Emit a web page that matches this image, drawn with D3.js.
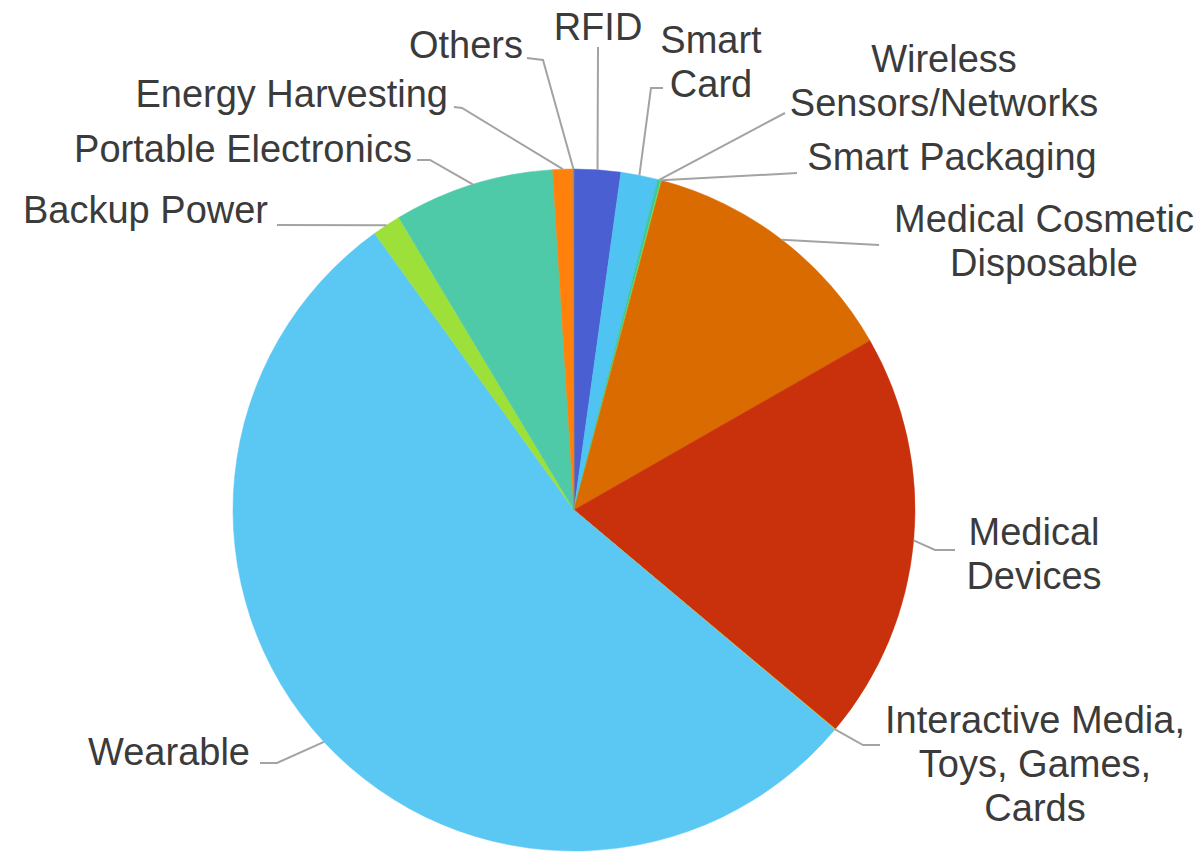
<!DOCTYPE html>
<html>
<head>
<meta charset="utf-8">
<script src="https://cdn.jsdelivr.net/npm/d3@7"></script>
<style>
  body { margin: 0; background: #ffffff; }
  svg { display: block; }
  text { font-family: "Liberation Sans", Arial, sans-serif; }
</style>
</head>
<body>
<svg id="chart" width="1199" height="852"></svg>
<script>
// Application segments, clockwise from 12 o'clock
const categories = [
  "RFID", "Smart Card", "Wireless Sensors/Networks", "Smart Packaging",
  "Medical Cosmetic Disposable", "Medical Devices",
  "Interactive Media, Toys, Games, Cards", "Wearable", "Backup Power",
  "Portable Electronics", "Energy Harvesting", "Others"
];

// Share of the total, in percent
const shares = [2.2, 1.75, 0.15, 0.05, 12.6, 19.4, 0.03, 54.0, 1.35, 7.6, 0.95, 0.05];

// Label text, broken into lines
const labelText = [
  ["RFID"], ["Smart", "Card"], ["Wireless", "Sensors/Networks"], ["Smart Packaging"],
  ["Medical Cosmetic", "Disposable"], ["Medical", "Devices"],
  ["Interactive Media,", "Toys, Games,", "Cards"], ["Wearable"], ["Backup Power"],
  ["Portable Electronics"], ["Energy Harvesting"], ["Others"]
];

const sliceColors = [
  "#4a5fd1", "#4fc3f2", "#3ec7a2", "#7fd64a", "#d96b00", "#c9300c",
  "#f2b10c", "#5bc8f4", "#9de03a", "#4fcaa9", "#ff800a", "#8c8c8c"
];

// Where each label sits and the label-side points of its leader line
const labelLayout = [
  { anchor: "middle", x: 598,  y: 40,  leader: [[598, 47]] },
  { anchor: "middle", x: 711,  y: 53,  leader: [[663, 88], [651, 88]] },
  { anchor: "middle", x: 944,  y: 72,  leader: [[785, 113]] },
  { anchor: "middle", x: 952,  y: 170, leader: [[797, 173]] },
  { anchor: "middle", x: 1044, y: 232, leader: [[879, 245]] },
  { anchor: "middle", x: 1034, y: 545, leader: [[955, 550], [935, 550]] },
  { anchor: "middle", x: 1035, y: 733, leader: [[880, 745], [863, 745]] },
  { anchor: "end",    x: 250,  y: 765, leader: [[260, 763], [277, 763]] },
  { anchor: "end",    x: 268,  y: 223, leader: [[277, 225]] },
  { anchor: "end",    x: 412,  y: 162, leader: [[417, 160], [430, 160]] },
  { anchor: "end",    x: 448,  y: 107, leader: [[454, 107], [462, 108]] },
  { anchor: "end",    x: 523,  y: 58,  leader: [[527, 58], [543, 60]] }
];

const cx = 574, cy = 510, radius = 341;
const fontSize = 38, lineHeight = 44;

const data = categories.map((c, i) => ({
  name: c, value: shares[i], color: sliceColors[i],
  lines: labelText[i], layout: labelLayout[i]
}));

const svg = d3.select("#chart");
const g = svg.append("g").attr("transform", `translate(${cx},${cy})`);

const pie = d3.pie().sort(null).value(d => d.value);
const arcs = pie(data);

const arc = d3.arc().innerRadius(0).outerRadius(radius);
const edgeArc = d3.arc().innerRadius(radius).outerRadius(radius);

// Slices
g.selectAll("path.slice")
  .data(arcs)
  .join("path")
  .attr("class", "slice")
  .attr("d", arc)
  .attr("fill", d => d.data.color)
  .attr("stroke", d => d.data.color)
  .attr("stroke-width", 0.5);

// Leader lines: label side first, then the midpoint of the slice's outer edge
const line = d3.line();
svg.selectAll("path.leader")
  .data(arcs)
  .join("path")
  .attr("class", "leader")
  .attr("d", d => {
    const [ex, ey] = edgeArc.centroid(d);
    return line([...d.data.layout.leader, [cx + ex, cy + ey]]);
  })
  .attr("fill", "none")
  .attr("stroke", "#a3a3a3")
  .attr("stroke-width", 2);

// Labels
const labels = svg.selectAll("text.label")
  .data(arcs)
  .join("text")
  .attr("class", "label")
  .attr("x", d => d.data.layout.x)
  .attr("y", d => d.data.layout.y)
  .attr("text-anchor", d => d.data.layout.anchor)
  .attr("font-size", fontSize)
  .attr("fill", "#3b3b3b");

labels.selectAll("tspan")
  .data(d => d.data.lines.map((t, i) => ({ t, i, x: d.data.layout.x })))
  .join("tspan")
  .attr("x", d => d.x)
  .attr("dy", d => d.i === 0 ? 0 : lineHeight)
  .text(d => d.t);
</script>
</body>
</html>
